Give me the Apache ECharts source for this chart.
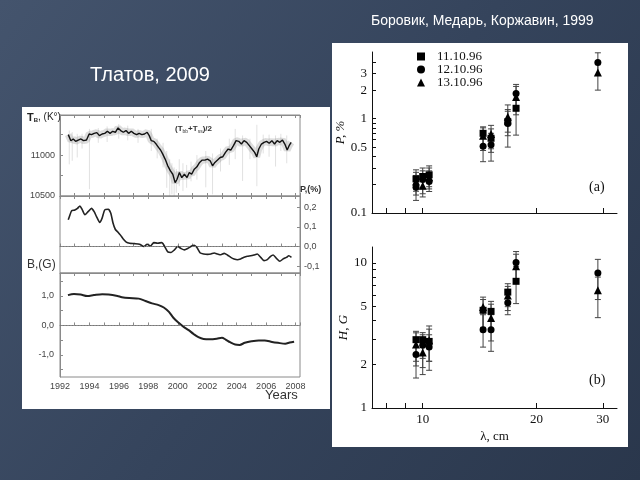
<!DOCTYPE html>
<html><head><meta charset="utf-8">
<script src="https://cdn.jsdelivr.net/npm/echarts@6/dist/echarts.min.js"></script>
<style>html,body{margin:0;padding:0;width:640px;height:480px;overflow:hidden;background:#33425a}#c{width:640px;height:480px}</style>
</head><body><div id="c"></div>
<script>
// ---------- Left figure (Tlatov 2009) ----------
const tbYears = [1992.56,1992.74,1992.9,1993.06,1993.24,1993.42,1993.6,1993.8,1993.98,1994.14,1994.32,1994.5,1994.68,1994.86,1995.04,1995.22,1995.4,1995.58,1995.76,1995.94,1996.12,1996.3,1996.48,1996.66,1996.84,1997.02,1997.2,1997.38,1997.56,1997.74,1997.92,1998.06,1998.2,1998.37,1998.53,1998.69,1998.83,1998.98,1999.14,1999.32,1999.5,1999.66,1999.82,1999.95,2000.11,2000.27,2000.45,2000.63,2000.78,2000.94,2001.12,2001.3,2001.48,2001.66,2001.84,2002.02,2002.2,2002.36,2002.52,2002.7,2002.88,2003.06,2003.24,2003.42,2003.6,2003.78,2003.96,2004.14,2004.32,2004.5,2004.68,2004.86,2005.04,2005.22,2005.36,2005.5,2005.68,2005.86,2006.03,2006.21,2006.39,2006.57,2006.75,2006.93,2007.11,2007.29,2007.43,2007.56,2007.7];
const tbValues = [11250,11176,11197,11168,11184,11197,11176,11184,11258,11250,11266,11275,11238,11258,11266,11291,11266,11291,11279,11332,11300,11279,11300,11266,11291,11266,11250,11266,11250,11258,11279,11238,11176,11168,11135,11094,11062,11012,10951,10869,10807,10766,10664,10705,10787,10725,10766,10725,10787,10766,10828,10857,10910,10939,10939,10951,10930,10869,10910,10939,10971,10980,11033,11074,11062,11115,11176,11168,11135,11176,11156,11115,11074,11033,10980,11074,11135,11156,11168,11144,11176,11135,11176,11156,11184,11127,11062,11115,11156];
const tbSpikeYear = [1992.63,1992.83,1993.17,1993.5,1994.0,1994.6,1995.2,1995.99,1996.6,1997.3,1998.2,1998.6,1999.0,1999.25,1999.45,1999.6,1999.75,1999.9,2000.1,2000.35,2000.6,2000.9,2001.3,2001.9,2002.36,2002.9,2003.5,2003.9,2004.4,2004.9,2005.37,2005.8,2006.2,2006.64,2007.0,2007.4];
const tbSpikeLow = [10887,10930,10971,11080,10583,11150,11160,11200,11180,11150,11050,10960,10850,10600,10500,10520,10500,10540,10620,10560,10600,10680,10700,10606,10520,10800,10880,10950,10684,10950,10620,11020,10980,10860,11050,10900];
const tbSpikeHigh = [11300,11280,11260,11260,11320,11330,11350,11380,11360,11320,11320,11200,11150,11050,10950,10900,10850,10830,10950,10900,10880,10920,11000,11050,11020,11080,11200,11320,11240,11200,11370,11250,11250,11240,11260,11240];

const pYears = [1992.56,1992.68,1992.79,1993.01,1993.19,1993.35,1993.5,1993.69,1993.91,1994.14,1994.32,1994.48,1994.7,1994.86,1995.04,1995.27,1995.45,1995.6,1995.76,1995.94,1996.12,1996.28,1996.5,1996.73,1997.07,1997.4,1997.7,1997.92,1998.15,1998.37,1998.64,1998.91,1999.09,1999.32,1999.54,1999.77,1999.99,2000.22,2000.45,2000.67,2000.94,2001.12,2001.3,2001.53,2001.75,2002.02,2002.25,2002.47,2002.7,2002.92,2003.15,2003.37,2003.6,2003.82,2004.05,2004.27,2004.5,2004.72,2004.95,2005.17,2005.4,2005.63,2005.85,2006.08,2006.3,2006.48,2006.7,2006.93,2007.16,2007.38,2007.54,2007.72];
const pValues = [0.137,0.162,0.183,0.187,0.195,0.207,0.19,0.162,0.178,0.195,0.178,0.153,0.123,0.145,0.187,0.19,0.17,0.12,0.087,0.073,0.057,0.04,0.023,0.017,0.015,0.012,0.0,0.012,0.003,0.02,0.017,0.02,0.003,-0.027,-0.03,-0.017,0.0,-0.01,-0.017,-0.01,0.003,0.007,-0.005,-0.033,-0.038,-0.04,-0.038,-0.033,-0.038,-0.042,-0.035,-0.043,-0.055,-0.063,-0.067,-0.063,-0.055,-0.05,-0.047,-0.043,-0.038,-0.055,-0.072,-0.067,-0.05,-0.043,-0.06,-0.075,-0.063,-0.055,-0.047,-0.055];

const bYears = [1992.54,1992.95,1993.4,1993.85,1994.3,1994.87,1995.3,1995.9,1996.2,1996.7,1997.35,1997.8,1998.25,1998.7,1999.05,1999.4,1999.7,2000.06,2000.4,2000.74,2001.07,2001.4,2001.75,2002.2,2002.65,2003.0,2003.25,2003.55,2003.9,2004.2,2004.55,2005.0,2005.5,2005.9,2006.4,2006.8,2007.3,2007.6,2007.9];
const bValues = [1.03,1.07,1.05,1.0,1.03,1.06,1.05,1.0,0.96,0.93,0.91,0.83,0.75,0.69,0.61,0.46,0.26,0.09,-0.05,-0.16,-0.29,-0.40,-0.46,-0.47,-0.45,-0.42,-0.48,-0.57,-0.65,-0.66,-0.59,-0.54,-0.51,-0.51,-0.56,-0.59,-0.62,-0.58,-0.55];

const yearLabels = [1992,1994,1996,1998,2000,2002,2004,2006,2008];
const tbLabels = [10500,11000];
const pLabels = [-0.1,0,0.1,0.2];
const bLabels = [-1,0,1];

// ---------- Right figure (Borovik et al. 1999) ----------
const dates = ['11.10.96','12.10.96','13.10.96'];
const lambdaCm = [9.6,10.0,10.4,14.45,15.17,16.8,17.67,29.1];
const pSq   = [0.23,0.244,0.254,0.70,0.62,0.93,1.29,null];
const pSqLo = [0.17,0.18,0.19,0.50,0.44,0.66,0.67,null];
const pSqHi = [0.287,0.30,0.316,0.82,0.78,1.25,1.6,null];
const pCi   = [0.187,0.226,0.216,0.51,0.53,0.89,1.85,3.95];
const pCiLo = [0.136,0.16,0.169,0.35,0.355,0.5,1.3,2.9];
const pCiHi = [0.25,0.28,0.28,0.68,0.70,1.2,2.31,5.0];
const pTr   = [0.216,0.194,0.24,0.66,0.69,1.05,1.7,3.1];
const pTrLo = [0.155,0.148,0.18,0.46,0.48,0.72,1.1,2.01];
const pTrHi = [0.27,0.26,0.30,0.80,0.85,1.4,2.2,3.9];
const hSq   = [2.96,2.96,2.88,4.72,4.64,6.3,7.48,null];
const hSqLo = [2.1,2.2,2.1,3.5,3.4,5.0,5.25,null];
const hSqHi = [3.38,3.31,3.5,5.6,5.44,7.2,9.5,null];
const hCi   = [2.34,2.71,2.63,3.47,3.47,5.32,10.07,8.53];
const hCiLo = [1.61,1.9,1.82,2.63,2.46,4.4,7.8,5.6];
const hCiHi = [2.9,3.2,3.2,4.4,4.4,6.3,12.0,10.6];
const hTr   = [2.74,2.41,2.93,4.97,4.17,5.98,9.5,6.48];
const hTrLo = [1.95,1.7,2.1,3.6,2.9,4.7,7.3,4.2];
const hTrHi = [3.3,3.0,3.68,5.82,5.2,6.9,11.5,8.0];
const lambdaLabels = [10,20,30];
const lambdaTicks = [8,9,10,20,30];
const pLogLabels = [0.1,0.5,1,2,3];
const pLogTicks = [0.1,0.2,0.3,0.4,0.5,0.6,0.7,0.8,0.9,1,2,3,4];
const hLogLabels = [1,2,5,10];
const hLogTicks = [1,2,3,4,5,6,7,8,9,10];

// ---------- helpers ----------
const zip = (a,b) => a.map((v,i)=>[v,b[i]]);
const pts = (vals) => lambdaCm.map((l,i)=>[l,vals[i]]).filter(d=>d[1]!=null);
const errs = (lo,hi) => lambdaCm.map((l,i)=>[l,lo[i],hi[i]]).filter(d=>d[1]!=null);
const comma = v => (Math.abs(v)<1e-9?0:v).toFixed(1).replace('.',',');
const plain = v => String(Math.round(v));
const SANS = 'Liberation Sans', SERIF = 'Liberation Serif';

function errRender(params, api){
  const x = api.value(0), lo = api.value(1), hi = api.value(2);
  const a = api.coord([x, lo]), b = api.coord([x, hi]);
  const w = 3, st = {stroke:'#444', lineWidth:1};
  return {type:'group', children:[
    {type:'line', shape:{x1:a[0],y1:a[1],x2:b[0],y2:b[1]}, style:st},
    {type:'line', shape:{x1:a[0]-w,y1:a[1],x2:a[0]+w,y2:a[1]}, style:st},
    {type:'line', shape:{x1:b[0]-w,y1:b[1],x2:b[0]+w,y2:b[1]}, style:st}
  ]};
}
function spikeRender(params, api){
  const x = api.value(0);
  const a = api.coord([x, api.value(1)]), b = api.coord([x, api.value(2)]);
  return {type:'line', shape:{x1:a[0],y1:a[1],x2:b[0],y2:b[1]}, style:{stroke:'rgba(120,120,120,0.22)', lineWidth:1}};
}

const leftX = (gi, pos, labels) => ({
  type:'value', gridIndex:gi, position:pos, min:1992, max:2008.3, interval:1,
  axisLine:{show:true, lineStyle:{color:'#8a8a8a'}},
  axisTick:{show:true, inside:true, length:3, lineStyle:{color:'#8a8a8a'}},
  axisLabel:{show:labels, customValues: yearLabels, formatter:plain, margin:5, fontFamily:SANS, fontSize:9, color:'#444'},
  splitLine:{show:false}
});
const gridBox = {show:true, borderColor:'#8a8a8a', borderWidth:1, backgroundColor:'rgba(0,0,0,0)'};

const chart = echarts.init(document.getElementById('c'));
const option = {
  animation:false,
  backgroundColor:{type:'linear', x:0, y:0, x2:1, y2:1, colorStops:[{offset:0,color:'#44546d'},{offset:0.5,color:'#35445c'},{offset:1,color:'#2a374c'}]},
  graphic:[
    {type:'rect', z:-10, shape:{x:22,y:107,width:308,height:302}, style:{fill:'#ffffff'}},
    {type:'rect', z:-10, shape:{x:332,y:43,width:296,height:404}, style:{fill:'#ffffff'}},
    {type:'text', left:371, top:14, style:{text:'Боровик, Медарь, Коржавин, 1999', fill:'#ffffff', font:'14px "Liberation Sans"'}},
    {type:'text', left:90, top:65, style:{text:'Тлатов, 2009', fill:'#ffffff', font:'20px "Liberation Sans"'}},
    {type:'text', left:27, top:112, style:{text:'{b|T}{s|B}{n|, (K°)}', rich:{b:{fontFamily:SANS,fontSize:11,fontWeight:'bold',fill:'#222'}, s:{fontFamily:SANS,fontSize:6,fontWeight:'bold',fill:'#222',verticalAlign:'bottom',padding:[6,0,0,0]}, n:{fontFamily:SANS,fontSize:10,fill:'#222'}}}},
    {type:'text', left:175, top:125, style:{text:'{n|(T}{s|bb}{n|+T}{s|ss}{n|)/2}', rich:{n:{fontFamily:SANS,fontSize:8,fontWeight:'bold',fill:'#333'}, s:{fontFamily:SANS,fontSize:5,fill:'#333',padding:[5,0,0,0]}}}},
    {type:'text', left:300, top:185, style:{text:'P,(%)', fill:'#333', font:'bold 9px "Liberation Sans"'}},
    {type:'text', left:27, top:259, style:{text:'B,(G)', fill:'#333', font:'12px "Liberation Sans"'}},
    {type:'text', left:265, top:389, style:{text:'Years', fill:'#333', font:'13px "Liberation Sans"'}},
    {type:'text', left:589, top:180, style:{text:'(a)', fill:'#111', font:'14px "Liberation Serif"'}},
    {type:'text', left:589, top:373, style:{text:'(b)', fill:'#111', font:'14px "Liberation Serif"'}}
  ],
  legend:{
    data:[{name:dates[0],icon:'rect'},{name:dates[1],icon:'circle'},{name:dates[2],icon:'triangle'}],
    orient:'vertical', left:412, top:45, itemWidth:8, itemHeight:8, itemGap:0,
    textStyle:{fontFamily:SERIF, fontSize:13, color:'#111', padding:[0,0,0,7], lineHeight:13},
    itemStyle:{color:'#000', opacity:1}
  },
  grid:[
    Object.assign({left:60, top:115, width:240, height:81}, gridBox),
    Object.assign({left:60, top:196, width:240, height:77}, gridBox),
    Object.assign({left:60, top:273, width:240, height:104}, gridBox),
    {left:372, top:52, width:245, height:161},
    {left:372, top:247, width:245, height:161}
  ],
  xAxis:[
    leftX(0,'bottom',false), leftX(0,'top',false),
    leftX(1,'bottom',false), leftX(1,'top',false),
    leftX(2,'bottom',true), leftX(2,'top',false),
    {type:'log', gridIndex:3, min:7.34, max:32.7, logBase:10,
     axisLine:{show:true, lineStyle:{color:'#111'}}, splitLine:{show:false},
     axisTick:{show:true, inside:true, length:5, customValues:lambdaTicks, lineStyle:{color:'#111'}},
     axisLabel:{show:false}},
    {type:'log', gridIndex:4, min:7.34, max:32.7, logBase:10,
     axisLine:{show:true, lineStyle:{color:'#111'}}, splitLine:{show:false},
     axisTick:{show:true, inside:true, length:5, customValues:lambdaTicks, lineStyle:{color:'#111'}},
     axisLabel:{show:true, customValues:lambdaLabels, formatter:plain, fontFamily:SERIF, fontSize:13, color:'#111', margin:5},
     name:'λ, cm', nameLocation:'middle', nameGap:22, nameTextStyle:{fontFamily:SERIF, fontSize:13, color:'#111'}}
  ],
  yAxis:[
    {type:'value', gridIndex:0, position:'left', min:10500, max:11490,
     axisLine:{show:true, lineStyle:{color:'#8a8a8a'}}, splitLine:{show:false},
     axisTick:{show:true, inside:true, length:3, customValues:[10500,10750,11000,11250], lineStyle:{color:'#8a8a8a'}},
     axisLabel:{customValues:tbLabels, formatter:plain, fontFamily:SANS, fontSize:9, color:'#444', margin:5}},
    {type:'value', gridIndex:1, position:'right', min:-0.135, max:0.258,
     axisLine:{show:true, lineStyle:{color:'#8a8a8a'}}, splitLine:{show:false},
     axisTick:{show:true, inside:true, length:3, customValues:pLabels, lineStyle:{color:'#8a8a8a'}},
     axisLabel:{customValues:pLabels, formatter:comma, fontFamily:SANS, fontSize:9, color:'#444', margin:4}},
    {type:'value', gridIndex:2, position:'left', min:-1.75, max:1.78,
     axisLine:{show:true, lineStyle:{color:'#8a8a8a'}}, splitLine:{show:false},
     axisTick:{show:true, inside:true, length:3, customValues:[-1.5,-1,-0.5,0,0.5,1,1.5], lineStyle:{color:'#8a8a8a'}},
     axisLabel:{customValues:bLabels, formatter:comma, fontFamily:SANS, fontSize:9, color:'#444', margin:6}},
    {type:'log', gridIndex:3, min:0.1, max:5.1, logBase:10,
     axisLine:{show:true, lineStyle:{color:'#111'}}, splitLine:{show:false},
     axisTick:{show:true, inside:true, length:4, customValues:pLogTicks, lineStyle:{color:'#111'}},
     axisLabel:{customValues:pLogLabels, formatter:v=>String(+(+v).toPrecision(3)), fontFamily:SERIF, fontSize:13, color:'#111', margin:5},
     name:'P, %', nameLocation:'middle', nameGap:20, nameRotate:90, nameTextStyle:{fontFamily:SERIF, fontStyle:'italic', fontSize:13, color:'#111'}},
    {type:'log', gridIndex:4, min:1, max:12.9, logBase:10,
     axisLine:{show:true, lineStyle:{color:'#111'}}, splitLine:{show:false},
     axisTick:{show:true, inside:true, length:4, customValues:hLogTicks, lineStyle:{color:'#111'}},
     axisLabel:{customValues:hLogLabels, formatter:plain, fontFamily:SERIF, fontSize:13, color:'#111', margin:5},
     name:'H, G', nameLocation:'middle', nameGap:22, nameRotate:90, nameTextStyle:{fontFamily:SERIF, fontStyle:'italic', fontSize:13, color:'#111'}}
  ],
  series:[
    {type:'custom', name:'tb-spikes', xAxisIndex:0, yAxisIndex:0, renderItem:spikeRender, encode:{x:0,y:[1,2]},
     data:tbSpikeYear.map((y,i)=>[y,tbSpikeLow[i],tbSpikeHigh[i]]), silent:true, z:1},
    {type:'line', name:'tb-band', xAxisIndex:0, yAxisIndex:0, data:zip(tbYears,tbValues), showSymbol:false, symbol:'none',
     lineStyle:{color:'rgba(120,120,120,0.25)', width:7}, silent:true, z:1},
    {type:'line', name:'tb', xAxisIndex:0, yAxisIndex:0, data:zip(tbYears,tbValues), showSymbol:false, symbol:'none',
     lineStyle:{color:'#111', width:1.4}, z:3},
    {type:'line', name:'p', xAxisIndex:2, yAxisIndex:1, data:zip(pYears,pValues), showSymbol:false, symbol:'none', smooth:0.2,
     lineStyle:{color:'#222', width:1.6},
     markLine:{silent:true, symbol:'none', label:{show:false}, lineStyle:{color:'#777', type:[1,2], width:1}, data:[{yAxis:0}]}},
    {type:'line', name:'b', xAxisIndex:4, yAxisIndex:2, data:zip(bYears,bValues), showSymbol:false, symbol:'none', smooth:0.3,
     lineStyle:{color:'#222', width:2},
     markLine:{silent:true, symbol:'none', label:{show:false}, lineStyle:{color:'#777', type:[1,2], width:1}, data:[{yAxis:0}]}},

    {type:'custom', name:'ea1', xAxisIndex:6, yAxisIndex:3, renderItem:errRender, encode:{x:0,y:[1,2]}, data:errs(pSqLo,pSqHi), z:2},
    {type:'custom', name:'ea2', xAxisIndex:6, yAxisIndex:3, renderItem:errRender, encode:{x:0,y:[1,2]}, data:errs(pCiLo,pCiHi), z:2},
    {type:'custom', name:'ea3', xAxisIndex:6, yAxisIndex:3, renderItem:errRender, encode:{x:0,y:[1,2]}, data:errs(pTrLo,pTrHi), z:2},
    {type:'custom', name:'eb1', xAxisIndex:7, yAxisIndex:4, renderItem:errRender, encode:{x:0,y:[1,2]}, data:errs(hSqLo,hSqHi), z:2},
    {type:'custom', name:'eb2', xAxisIndex:7, yAxisIndex:4, renderItem:errRender, encode:{x:0,y:[1,2]}, data:errs(hCiLo,hCiHi), z:2},
    {type:'custom', name:'eb3', xAxisIndex:7, yAxisIndex:4, renderItem:errRender, encode:{x:0,y:[1,2]}, data:errs(hTrLo,hTrHi), z:2},

    {type:'scatter', name:dates[0], xAxisIndex:6, yAxisIndex:3, symbol:'rect', symbolSize:7, itemStyle:{color:'#000', opacity:1}, data:pts(pSq), z:4},
    {type:'scatter', name:dates[1], xAxisIndex:6, yAxisIndex:3, symbol:'circle', symbolSize:7, itemStyle:{color:'#000', opacity:1}, data:pts(pCi), z:4},
    {type:'scatter', name:dates[2], xAxisIndex:6, yAxisIndex:3, symbol:'triangle', symbolSize:8, itemStyle:{color:'#000', opacity:1}, data:pts(pTr), z:4},
    {type:'scatter', name:dates[0], xAxisIndex:7, yAxisIndex:4, symbol:'rect', symbolSize:7, itemStyle:{color:'#000', opacity:1}, data:pts(hSq), z:4},
    {type:'scatter', name:dates[1], xAxisIndex:7, yAxisIndex:4, symbol:'circle', symbolSize:7, itemStyle:{color:'#000', opacity:1}, data:pts(hCi), z:4},
    {type:'scatter', name:dates[2], xAxisIndex:7, yAxisIndex:4, symbol:'triangle', symbolSize:8, itemStyle:{color:'#000', opacity:1}, data:pts(hTr), z:4}
  ]
};
chart.setOption(option);
</script></body></html>
